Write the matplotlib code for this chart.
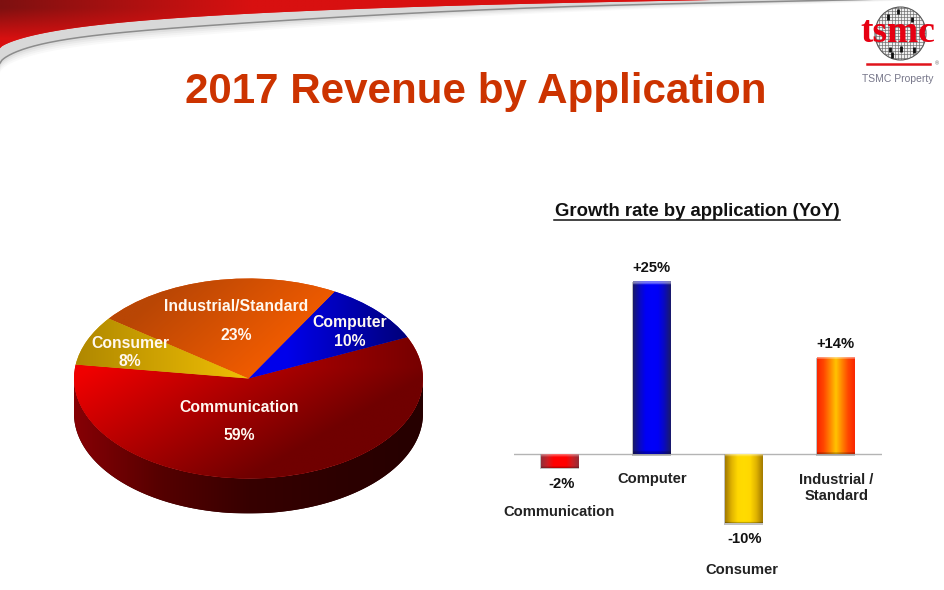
import numpy as np
import matplotlib
matplotlib.use("Agg")
import matplotlib.pyplot as plt
from matplotlib.patches import Ellipse, PathPatch
from matplotlib.path import Path

# ---------- data ----------
title = "2017 Revenue by Application"
subtitle = "Growth rate by application (YoY)"
pie_names = ["Communication", "Computer", "Industrial/Standard", "Consumer"]
pie_shares = [59, 10, 23, 8]
bar_names = ["Communication", "Computer", "Consumer", "Industrial /\nStandard"]
bar_growth = [-2, 25, -10, 14]

W, H = 944, 590
plt.rcParams["font.family"] = ["Liberation Sans", "DejaVu Sans"]
plt.rcParams["font.weight"] = "bold"
fig = plt.figure(figsize=(W / 100, H / 100), dpi=100, facecolor="white")


def rect(x0, y0, x1, y1):
    """Pixel box (y from the top) to figure fraction."""
    return [x0 / W, 1 - y1 / H, (x1 - x0) / W, (y1 - y0) / H]


def smooth_curve(kx, ky, xs):
    """Smooth decorative swoosh through a few guide points."""
    c = np.polyfit(np.sqrt(kx), ky, 6)
    return np.polyval(c, np.sqrt(xs))


# ---------- slide background (pixel coordinates) ----------
bg = fig.add_axes([0, 0, 1, 1], zorder=0)
bg.set_xlim(0, W)
bg.set_ylim(H, 0)
bg.axis("off")
xs = np.linspace(0, 944, 500)
red_x = np.array([0, 8, 20, 50, 100, 200, 300, 500, 700, 944], float)
red_y = np.array([48, 44, 38, 32, 25, 17, 10.5, 5, 0, -6], float)
line_x = np.array([0, 5, 10, 20, 50, 100, 200, 300, 500, 700, 800, 944], float)
line_y = np.array([63, 58, 55, 50, 42, 35, 27, 18.5, 9.5, 3.5, 0.5, -3], float)
red_edge = smooth_curve(red_x, red_y, xs)
line_edge = smooth_curve(line_x, line_y, xs)
for off, g in [(9, .975), (7, .95), (5, .915), (3, .87)]:
    bg.fill_between(xs, line_edge - 1, line_edge + off * np.clip(1.2 - xs / 944, .2, 1),
                    color=(g, g, g), lw=0, zorder=1)
bg.fill_between(xs, red_edge, line_edge, color="#d8d8d8", lw=0, zorder=2)
bg.plot(xs, line_edge, color="#8c8c8c", lw=1.1, zorder=3)
red_poly = bg.fill_between(xs, -1, red_edge, color="#d81010", lw=0, zorder=4)
gx, gy = np.meshgrid(np.linspace(0, 1, 300), np.linspace(0, 1, 60))
g_t = np.clip(1 - gx * 3.2, 0, 1) * np.clip(1.25 - gy * 1.6, 0, 1)
g_img = np.dstack([216 - 90 * g_t, 16 + 0 * g_t, 16 + 0 * g_t]) / 255
im = bg.imshow(g_img, extent=(0, 800, 50, 0), aspect="auto", zorder=5)
im.set_clip_path(red_poly.get_paths()[0], transform=bg.transData)
bg.set_xlim(0, W)
bg.set_ylim(H, 0)

# logo
wafer = Ellipse((900.5, 33.5), 51, 53, fc="#f0f0f0", ec="#555555", lw=0.8, zorder=6)
bg.add_patch(wafer)
for v in np.arange(876, 926, 3.1):
    l = bg.plot([v, v], [6, 61], color="#666666", lw=0.45, zorder=7)[0]
    l.set_clip_path(wafer)
for v in np.arange(8, 60, 3.1):
    l = bg.plot([875, 926], [v, v], color="#666666", lw=0.45, zorder=7)[0]
    l.set_clip_path(wafer)
bg.vlines([888, 898, 912, 890, 892, 901, 914], [14, 9, 17, 47, 52, 46, 47],
          [20, 14, 22, 52, 58, 52, 53], color="#111111", lw=2, zorder=8)
bg.text(897.5, 33, "tsmc", family="Liberation Serif", weight="bold", fontsize=27,
        color="#e60012", ha="center", va="center", zorder=9)
bg.plot([867, 930], [64, 64], color="#e0141c", lw=1.8, zorder=9)
bg.text(937, 63.5, "®", fontsize=4, color="#666666", ha="center", va="center", weight="normal")
bg.text(898, 78.5, "TSMC Property", fontsize=7.5, color="#77778a", ha="center", va="center",
        weight="normal")

# titles
bg.text(476, 92.5, title, fontsize=30.3, color="#cc3300", ha="center", va="center")
bg.text(697, 211.5, subtitle, fontsize=13.3, color="#111111", ha="center", va="center")
bg.plot([554, 840], [219.5, 219.5], color="#111111", lw=1.1)

# ---------- 3-D style pie ----------
CX, CY, RX, RY, DEPTH = 248.5, 378.5, 174.5, 100, 35
pie = fig.add_axes(rect(CX - RX, CY - RY, CX + RX, CY + RY + DEPTH), zorder=2)
depth_u = DEPTH / RY
wedges, _ = pie.pie(pie_shares, startangle=172, counterclock=True, radius=1,
                    colors=["#c00000", "#0000c0", "#e05000", "#d0a000"],
                    wedgeprops={"linewidth": 0})
pie.set_aspect("auto")
pie.set_xlim(-1, 1)
pie.set_ylim(-1 - depth_u, 1)
pie.axis("off")

px_, py_ = np.meshgrid(np.linspace(-1, 1, 500), np.linspace(1, -1 - depth_u, 330))


def ramp(stops, t):
    t = np.clip(t, 0, 1)
    ts = np.linspace(0, 1, len(stops))
    return np.dstack([np.interp(t, ts, [s[c] for s in stops]) for c in range(3)]) / 255


# side wall
theta = np.radians(np.linspace(180, 360, 200))
wx, wy = np.cos(theta), np.sin(theta)
verts = np.r_[np.c_[wx, wy], np.c_[wx[::-1], wy[::-1] - depth_u], [[wx[0], wy[0]]]]
wall = PathPatch(Path(verts), fc="#300000", lw=0, zorder=1)
pie.add_patch(wall)
wim = pie.imshow(ramp([(135, 0, 5), (85, 0, 0), (55, 0, 0), (45, 0, 0), (38, 0, 0)],
                      (px_ + 1) / 2),
                 extent=(-1, 1, -1 - depth_u, 1), aspect="auto", zorder=1.5)
wim.set_clip_path(wall)

# top faces
top_fill = [
    ramp([(240, 0, 0), (112, 0, 0)], 0.5 * (px_ + 1) + 0.5 * np.maximum(-py_, -0.1)),
    ramp([(0, 0, 235), (0, 0, 120)], (px_ - 0.22) / 0.7),
    ramp([(185, 70, 5), (242, 92, 0)], (px_ + 0.8) / 1.1 + (0.4 - py_) * 0.6),
    ramp([(175, 135, 0), (250, 200, 5)], (px_ + 1) / 1.15),
]
for w, fill in zip(wedges, top_fill):
    w.set_zorder(2)
    i = pie.imshow(fill, extent=(-1, 1, -1 - depth_u, 1), aspect="auto", zorder=2.5)
    i.set_clip_path(w)
pie.set_xlim(-1, 1)
pie.set_ylim(-1 - depth_u, 1)

pie_text = [
    ((239, 407.5), pie_names[0]), ((239, 436), f"{pie_shares[0]}%"),
    ((350, 322.5), pie_names[1]), ((350, 342), f"{pie_shares[1]}%"),
    ((236, 306.5), pie_names[2]), ((236, 335), f"{pie_shares[2]}%"),
    ((130, 343.5), pie_names[3]), ((130, 361), f"{pie_shares[3]}%"),
]
top = fig.add_axes([0, 0, 1, 1], zorder=4)
top.set_xlim(0, W)
top.set_ylim(H, 0)
top.axis("off")
for (x, y), s in pie_text:
    top.text(x, y, s, fontsize=11.3, color="#fff8f0", ha="center", va="center")

# ---------- growth bars ----------
PX_PER = 6.88
Y0 = 454
bar = fig.add_axes(rect(513.5, Y0 - 30 * PX_PER, 881.5, Y0 + 18 * PX_PER), zorder=3)
bar.patch.set_alpha(0)
bar.set_xlim(-0.5, 3.5)
bar.set_ylim(-18, 30)
bar.axis("off")
bar.axhline(0, color="#b4b4b4", lw=1, zorder=1)
pos = np.arange(len(bar_growth))
bars = bar.bar(pos, bar_growth, width=0.41, color="#888888", lw=0, zorder=2)
bar_ramps = [
    [(150, 45, 55), (205, 30, 35), (255, 0, 0), (255, 0, 0), (255, 0, 0), (205, 30, 35), (150, 45, 55)],
    [(25, 25, 110), (10, 10, 190), (0, 0, 245), (0, 0, 250), (0, 0, 245), (10, 10, 190), (25, 25, 110)],
    [(165, 125, 0), (225, 180, 0), (255, 215, 0), (255, 220, 0), (255, 215, 0), (225, 180, 0), (165, 125, 0)],
    [(250, 40, 0), (255, 70, 0), (255, 130, 0), (255, 195, 0), (255, 130, 0), (255, 70, 0), (250, 40, 0)],
]
for b, stops in zip(bars, bar_ramps):
    x0, y0, w, h = b.get_bbox().bounds
    base = ramp(stops, np.linspace(0, 1, 40))[0]
    n = 60
    img = np.repeat(base[None, :, :], n, axis=0)
    rows = max(int(n * 3 / (abs(h) * PX_PER)), 1)
    for r in range(rows):
        a = 0.45 * (1 - r / rows)
        img[r] = img[r] * (1 - a) + a
    img[-max(rows // 2, 1):] *= 0.75
    bar.imshow(img, extent=(x0, x0 + w, y0, y0 + h) if h > 0 else (x0, x0 + w, y0 + h, y0),
               origin="upper", aspect="auto", zorder=3)
    bar.add_patch(plt.Rectangle((x0 - .008, min(y0, y0 + h) - .25), w + .016, abs(h) + .25,
                                fc="#999999", lw=0, alpha=.6, zorder=1.5))
bar.set_xlim(-0.5, 3.5)
bar.set_ylim(-18, 30)

value_offset = [(2, -16.5), (0, 13.5), (1, -16.5), (0, 13.5)]
name_offset = [(-1, -57.5), (1, -25), (-2, -115.5), (1, -34)]
for i, v in enumerate(bar_growth):
    bar.annotate(f"{v:+d}%" if v > 0 else f"{v}%", (i, v), xytext=value_offset[i],
                 textcoords="offset pixels", fontsize=10.6, color="#111111",
                 ha="center", va="center")
    bar.annotate(bar_names[i], (i, 0), xytext=name_offset[i], textcoords="offset pixels",
                 fontsize=10.6, color="#222222", ha="center", va="center", linespacing=1.15)

fig.savefig("out.png", dpi=100)
